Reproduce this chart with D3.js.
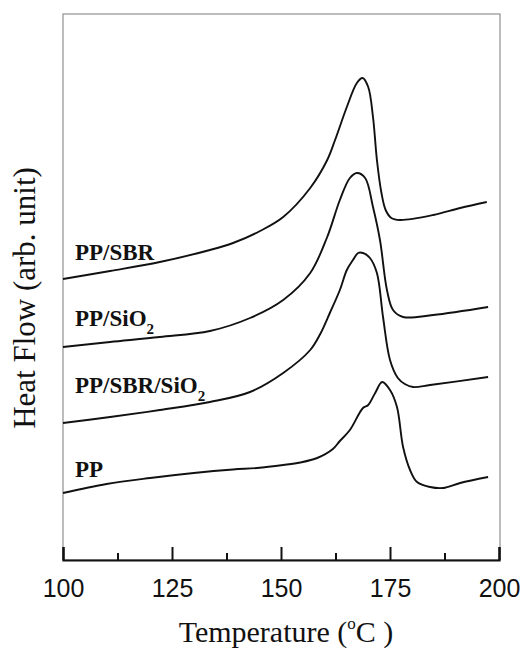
<!DOCTYPE html>
<html>
<head>
<meta charset="utf-8">
<script src="https://cdn.jsdelivr.net/npm/d3@7/dist/d3.min.js"></script>
<style>
  html, body { margin: 0; padding: 0; background: #fff; }
  svg { display: block; }
</style>
</head>
<body>
<svg id="chart" width="528" height="648"></svg>
<script>
// ---- data (temperature °C, heat flow arb. unit) ----
const seriesNames = ["PP/SBR", "PP/SiO2", "PP/SBR/SiO2", "PP"];

const ppSbrT = [100, 110.8, 122.2, 133.7, 139.0, 145.2, 150.5, 156.7, 160.6, 162.4, 165.1, 167.4, 168.7, 170.0, 171.1, 172.0, 173.0, 174.0, 175.3, 177.3, 184.9, 191.1, 197.2];
const ppSbrV = [28.1, 28.9, 29.8, 31.0, 31.7, 32.9, 34.3, 37.2, 40.0, 42.0, 45.3, 47.7, 48.2, 47.3, 44.3, 40.0, 36.8, 35.0, 34.2, 34.0, 34.5, 35.2, 35.8];

const ppSio2T = [100, 110.8, 122.2, 133.7, 142.9, 150.5, 156.7, 160.6, 163.5, 165.8, 167.4, 169.3, 171.1, 172.7, 174.3, 175.7, 178.0, 184.9, 197.5];
const ppSio2V = [21.3, 21.8, 22.3, 22.9, 24.2, 26.0, 28.7, 32.3, 36.0, 38.2, 38.7, 38.2, 35.3, 32.0, 27.0, 25.0, 24.3, 24.5, 25.3];

const ppSbrSio2T = [100, 110.8, 122.2, 133.7, 142.9, 150.5, 156.7, 159.0, 161.2, 163.5, 165.1, 166.5, 167.7, 168.8, 170.4, 172.0, 173.4, 175.0, 176.8, 178.4, 180.3, 184.2, 197.5];
const ppSbrSio2V = [13.7, 14.3, 15.0, 15.8, 16.8, 18.7, 21.0, 22.6, 24.7, 27.0, 29.0, 30.0, 30.7, 30.7, 30.2, 28.7, 24.3, 20.0, 18.2, 17.6, 17.3, 17.5, 18.3];

const ppT = [100, 110, 120, 130, 139, 144.5, 150.5, 154.4, 158.3, 161.9, 163.5, 165.8, 168.8, 170.0, 171.6, 173.2, 175.0, 176.6, 178.0, 179.6, 181.2, 184.2, 187.2, 191.1, 197.5];
const ppV = [6.7, 7.6, 8.2, 8.7, 9.05, 9.2, 9.5, 9.75, 10.2, 11.1, 11.9, 13.0, 15.2, 15.5, 16.7, 17.8, 17.0, 15.3, 11.3, 9.0, 7.8, 7.3, 7.2, 7.7, 8.3];

const majorTicks = [100, 125, 150, 175, 200];
const minorTicks = [112.5, 137.5, 162.5, 187.5];
const xTitle = "Temperature (";
const yTitle = "Heat Flow (arb. unit)";

// ---- layout ----
const svg = d3.select("#chart");
const padL = 63, padR = 499, padT = 14, padB = 560;

const x = d3.scaleLinear().domain([100, 200]).range([padL, padR]);
const y = d3.scaleLinear().domain([0, 54.6]).range([padB, padT]);

// frame
svg.append("rect")
  .attr("x", padL).attr("y", padT)
  .attr("width", 500 - padL).attr("height", padB - padT)
  .attr("fill", "none").attr("stroke", "#909090").attr("stroke-width", 1.2);

// curves
const series = [
  { name: seriesNames[0], T: ppSbrT, V: ppSbrV },
  { name: seriesNames[1], T: ppSio2T, V: ppSio2V },
  { name: seriesNames[2], T: ppSbrSio2T, V: ppSbrSio2V },
  { name: seriesNames[3], T: ppT, V: ppV }
];
const line = d3.line()
  .x(d => x(d[0])).y(d => y(d[1]))
  .curve(d3.curveCatmullRom.alpha(0.5));

svg.append("g").selectAll("path")
  .data(series).join("path")
  .attr("d", s => line(s.T.map((t, i) => [t, s.V[i]])))
  .attr("fill", "none").attr("stroke", "#111").attr("stroke-width", 1.9)
  .attr("stroke-linejoin", "round");

// x axis
const axisG = svg.append("g").attr("transform", `translate(0,${padB})`);
axisG.call(d3.axisBottom(x).tickValues(majorTicks).tickSize(-13).tickPadding(19).tickFormat(d3.format("d")));
axisG.select(".domain").attr("stroke", "#111").attr("stroke-width", 2.2);
axisG.selectAll(".tick line").attr("stroke", "#111").attr("stroke-width", 2);
axisG.selectAll(".tick text")
  .attr("font-family", "'Liberation Sans', Arial, sans-serif")
  .attr("font-size", 25).attr("fill", "#111");

const minorG = svg.append("g").attr("transform", `translate(0,${padB})`);
minorG.call(d3.axisBottom(x).tickValues(minorTicks).tickSize(-7).tickFormat(""));
minorG.select(".domain").remove();
minorG.selectAll(".tick line").attr("stroke", "#111").attr("stroke-width", 2);

// axis titles
const xt = svg.append("text")
  .attr("x", 286).attr("y", 642)
  .attr("text-anchor", "middle")
  .attr("font-family", "'Liberation Serif', 'Times New Roman', serif")
  .attr("font-size", 30).attr("fill", "#111");
xt.append("tspan").text(xTitle);
xt.append("tspan").attr("font-size", 17).attr("dy", -13).text("o");
xt.append("tspan").attr("dy", 13).text("C )");

svg.append("text")
  .attr("transform", `translate(35,298) rotate(-90)`)
  .attr("text-anchor", "middle")
  .attr("font-family", "'Liberation Serif', 'Times New Roman', serif")
  .attr("font-size", 31).attr("fill", "#111")
  .text(yTitle);

// curve labels
const labelBase = [260, 326, 393, 477];
series.forEach((s, i) => {
  const t = svg.append("text")
    .attr("x", 75).attr("y", labelBase[i])
    .attr("font-family", "'Liberation Serif', 'Times New Roman', serif")
    .attr("font-weight", "bold")
    .attr("font-size", 23).attr("fill", "#111");
  const m = s.name.match(/^(.*O)2$/);
  if (m) {
    t.append("tspan").text(m[1]);
    t.append("tspan").attr("font-size", 15).attr("dy", 8).text("2");
  } else {
    t.text(s.name);
  }
});
</script>
</body>
</html>
